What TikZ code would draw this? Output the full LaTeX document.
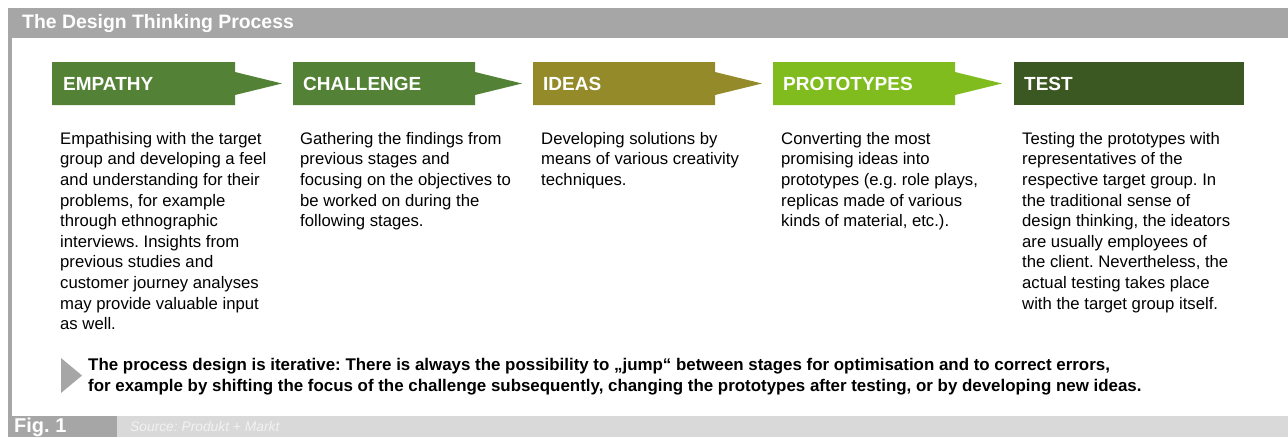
\documentclass[tikz,border=0pt]{standalone}
\usepackage{fontspec}
\setmainfont{Liberation Sans}
\usepackage{xcolor}
\definecolor{framegray}{HTML}{A6A6A6}
\definecolor{footgray}{HTML}{D9D9D9}
\definecolor{srcgray}{HTML}{F2F2F2}
\definecolor{empgreen}{HTML}{538135}
\definecolor{ideaolive}{HTML}{948A2A}
\definecolor{protogreen}{HTML}{80BC1E}
\definecolor{testgreen}{HTML}{3B5722}
\frenchspacing

\begin{document}
\begin{tikzpicture}[x=1pt,y=-1pt]
\tikzstyle{every node}+=[inner sep=0pt]
\tikzstyle{stagelabel}=[anchor=west, text=white, font=\fontsize{19}{21}\selectfont\bfseries]
\tikzstyle{bodytext}=[anchor=north west, align=left, font=\fontsize{16.7}{20.6}\selectfont]
\useasboundingbox (0,0) rectangle (1288,437);
% frame
\fill [framegray] (8,8) rectangle (1288,38);
\fill [framegray] (8,38) rectangle (12,416);
\fill [framegray] (8,416) rectangle (117,437);
\fill [footgray] (117,416) rectangle (1288,437);
\draw (22,24) node [anchor=west, text=white, font=\fontsize{19.4}{21}\selectfont\bfseries] (title) {The Design Thinking Process};
% stages
\fill [empgreen] (52,62) -- (235,62) -- (235,72) -- (282,83.5) -- (235,95) -- (235,105) -- (52,105) -- cycle;
\draw (63,84) node [stagelabel] (empathy) {EMPATHY};
\fill [empgreen] (293,62) -- (475,62) -- (475,72) -- (522,83.5) -- (475,95) -- (475,105) -- (293,105) -- cycle;
\draw (303,84) node [stagelabel] (challenge) {CHALLENGE};
\fill [ideaolive] (533,62) -- (715,62) -- (715,72) -- (762,83.5) -- (715,95) -- (715,105) -- (533,105) -- cycle;
\draw (543,84) node [stagelabel] (ideas) {IDEAS};
\fill [protogreen] (773,62) -- (955,62) -- (955,72) -- (1002,83.5) -- (955,95) -- (955,105) -- (773,105) -- cycle;
\draw (783,84) node [stagelabel] (prototypes) {PROTOTYPES};
\fill [testgreen] (1014,62) rectangle (1244,105);
\draw (1024,84) node [stagelabel] (test) {TEST};
% descriptions
\draw (60,132) node [bodytext] (empathytext) {Empathising with the target\\group and developing a feel\\and understanding for their\\problems, for example\\through ethnographic\\interviews. Insights from\\previous studies and\\customer journey analyses\\may provide valuable input\\as well.};
\draw (300,132) node [bodytext] (challengetext) {Gathering the findings from\\previous stages and\\focusing on the objectives to\\be worked on during the\\following stages.};
\draw (541,132) node [bodytext] (ideastext) {Developing solutions by\\means of various creativity\\techniques.};
\draw (781,132) node [bodytext] (prototypestext) {Converting the most\\promising ideas into\\prototypes (e.g. role plays,\\replicas made of various\\kinds of material, etc.).};
\draw (1022,132) node [bodytext] (testtext) {Testing the prototypes with\\representatives of the\\respective target group. In\\the traditional sense of\\design thinking, the ideators\\are usually employees of\\the client. Nevertheless, the\\actual testing takes place\\with the target group itself.};
% note
\fill [framegray] (61,358) -- (82,375.5) -- (61,393) -- cycle;
\draw (88,358) node [anchor=north west, align=left, font=\fontsize{16.9}{21}\selectfont\bfseries] (note) {The process design is iterative: There is always the possibility to „jump“ between stages for optimisation and to correct errors,\\for example by shifting the focus of the challenge subsequently, changing the prototypes after testing, or by developing new ideas.};
% footer
\draw (14,427) node [anchor=west, text=white, font=\fontsize{20}{22}\selectfont\bfseries] (fig) {Fig. 1};
\draw (130,427) node [anchor=west, text=srcgray, font=\fontsize{13.8}{15}\selectfont\itshape] (source) {Source: Produkt + Markt};
\end{tikzpicture}
\end{document}
